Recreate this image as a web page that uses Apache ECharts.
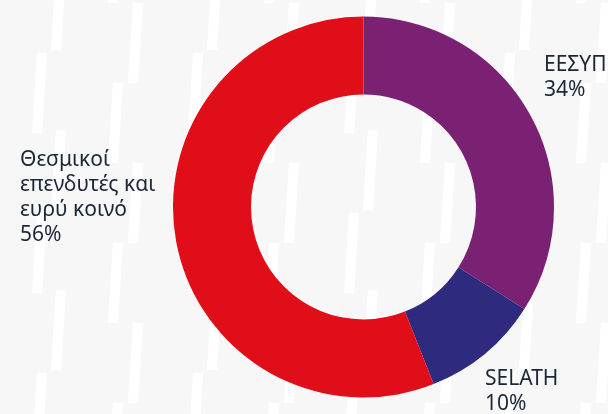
<!DOCTYPE html>
<html>
<head>
<meta charset="utf-8">
<script src="https://cdn.jsdelivr.net/npm/echarts@6/dist/echarts.min.js"></script>
<style>
html,body{margin:0;padding:0;}
#bg{position:absolute;left:0;top:0;width:608px;height:414px;background-color:#f7f7f7;
background-image:url("data:image/svg+xml;utf8,<svg xmlns='http://www.w3.org/2000/svg' width='156' height='160'><g fill='white'><polygon points='56,-30 66,-30 61,50 51,50'/><polygon points='56,130 66,130 61,210 51,210'/><polygon points='37,53 47,53 42,133 32,133'/><polygon points='133,3 143,3 138,83 128,83'/><polygon points='113,83 123,83 118,163 108,163'/><polygon points='113,-77 123,-77 118,3 108,3'/></g></svg>");}
#main{position:absolute;left:0;top:0;width:608px;height:414px;}
</style>
</head>
<body>
<div id="bg"></div>
<div id="main"></div>
<script>
const categories = ['ΕΕΣΥΠ', 'SELATH', 'Θεσμικοί\nεπενδυτές και\nευρύ κοινό'];
const values = [34, 10, 56];
const colors = ['#7a2173', '#2e2a7d', '#e00e18'];

const labelPos = [
  {x: 544, y: 53},
  {x: 485, y: 367},
  {x: 20, y: 148}
];

const chart = echarts.init(document.getElementById('main'), null, {renderer: 'canvas'});
chart.setOption({
  backgroundColor: 'transparent',
  animation: false,
  series: [{
    type: 'pie',
    center: [363.5, 207],
    radius: [112.5, 190.5],
    startAngle: 90,
    clockwise: true,
    avoidLabelOverlap: false,
    itemStyle: {borderWidth: 0},
    emphasis: {disabled: true},
    label: {
      show: true,
      position: 'outside',
      formatter: p => p.name + '\n' + p.value + '%',
      color: '#1b2738',
      fontFamily: 'Noto Sans',
      fontSize: 21,
      lineHeight: 25,
      align: 'left'
    },
    labelLine: {show: false},
    labelLayout: p => ({
      x: labelPos[p.dataIndex].x,
      y: labelPos[p.dataIndex].y,
      align: 'left',
      verticalAlign: 'top'
    }),
    data: categories.map((c, i) => ({name: c, value: values[i], itemStyle: {color: colors[i]}}))
  }]
});
</script>
</body>
</html>
